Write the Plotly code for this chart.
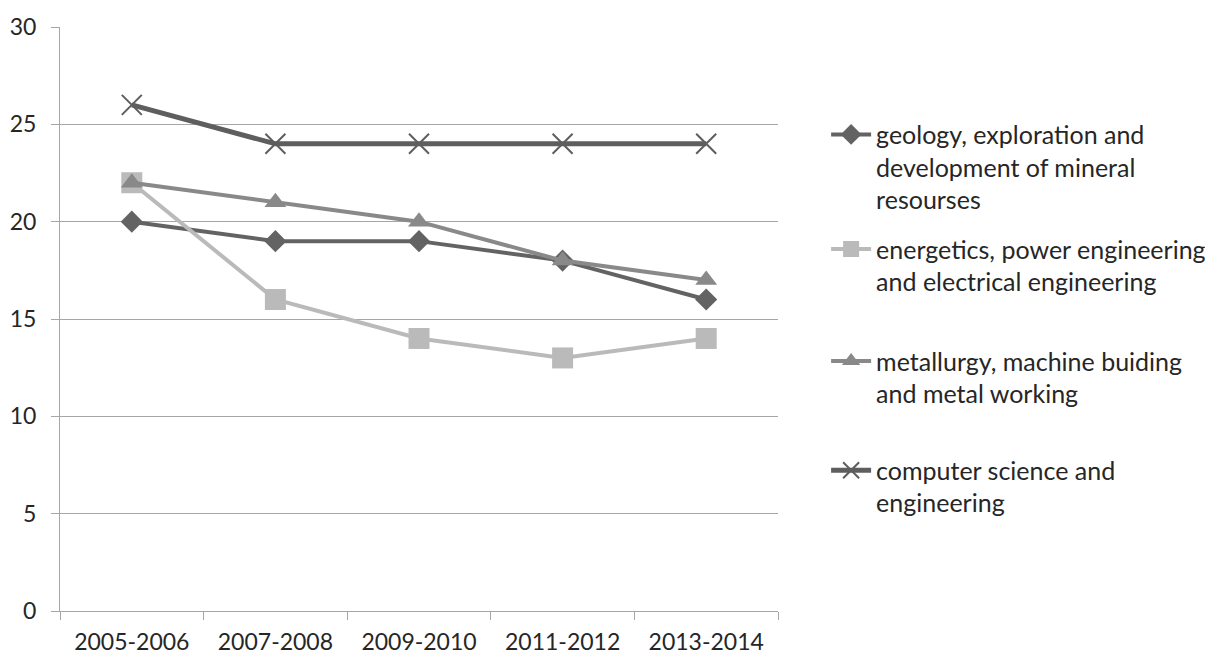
import plotly.graph_objects as go

# Academic years on the category axis
years = ["2005-2006", "2007-2008", "2009-2010", "2011-2012", "2013-2014"]

# One series per field of study
geology = [20, 19, 19, 18, 16]
energetics = [22, 16, 14, 13, 14]
metallurgy = [22, 21, 20, 18, 17]
computer = [26, 24, 24, 24, 24]

names = [
    "geology, exploration and<br>development of mineral<br>resourses",
    "energetics, power engineering<br>and electrical engineering",
    "metallurgy, machine buiding<br>and metal working",
    "computer science and<br>engineering",
]

FONT = "Lato"
TEXT = "#262626"

fig = go.Figure()

fig.add_trace(go.Scatter(
    x=years, y=geology, name=names[0], mode="lines+markers",
    line=dict(color="#636363", width=4),
    marker=dict(symbol="diamond", size=17, color="#636363"),
    legend="legend",
))
fig.add_trace(go.Scatter(
    x=years, y=energetics, name=names[1], mode="lines+markers",
    line=dict(color="#bababa", width=4),
    marker=dict(symbol="square", size=21, color="#bababa"),
    legend="legend2",
))
fig.add_trace(go.Scatter(
    x=years, y=metallurgy, name=names[2], mode="lines+markers",
    line=dict(color="#898989", width=4),
    marker=dict(symbol="triangle-up", size=19, color="#898989"),
    legend="legend3",
))
fig.add_trace(go.Scatter(
    x=years, y=computer, name=names[3], mode="lines+markers",
    line=dict(color="#5e5e5e", width=5),
    marker=dict(symbol="x-thin", size=20, color="#5e5e5e",
                line=dict(color="#5e5e5e", width=2)),
    legend="legend4",
))

legend_style = dict(
    x=1.067, xanchor="left", yanchor="top", valign="top",
    font=dict(family=FONT, size=25, color=TEXT),
    bgcolor="rgba(0,0,0,0)", itemwidth=40,
)

fig.update_layout(
    width=1205, height=657,
    margin=dict(l=60, r=427, t=27, b=46, autoexpand=False),
    paper_bgcolor="white", plot_bgcolor="white",
    font=dict(family=FONT, size=23, color=TEXT),
    showlegend=True,
    legend=dict(y=0.855, **legend_style),
    legend2=dict(y=0.659, **legend_style),
    legend3=dict(y=0.467, **legend_style),
    legend4=dict(y=0.280, **legend_style),
    xaxis=dict(
        type="category", range=[-0.5, 4.5],
        showgrid=False, showline=True, linecolor="#a6a6a6", linewidth=1,
        ticks="outside", tickson="boundaries", ticklen=8, tickcolor="#a6a6a6",
        tickfont=dict(family=FONT, size=23, color=TEXT),
        ticklabelstandoff=10,
        zeroline=False,
    ),
    yaxis=dict(
        range=[0, 30], dtick=5, tick0=0,
        showgrid=True, gridcolor="#a6a6a6", gridwidth=1,
        showline=True, linecolor="#a6a6a6", linewidth=1,
        ticks="outside", ticklen=8, tickcolor="#a6a6a6",
        tickfont=dict(family=FONT, size=23, color=TEXT),
        ticklabelstandoff=10,
        zeroline=False,
    ),
)

fig.write_html("out.html")
